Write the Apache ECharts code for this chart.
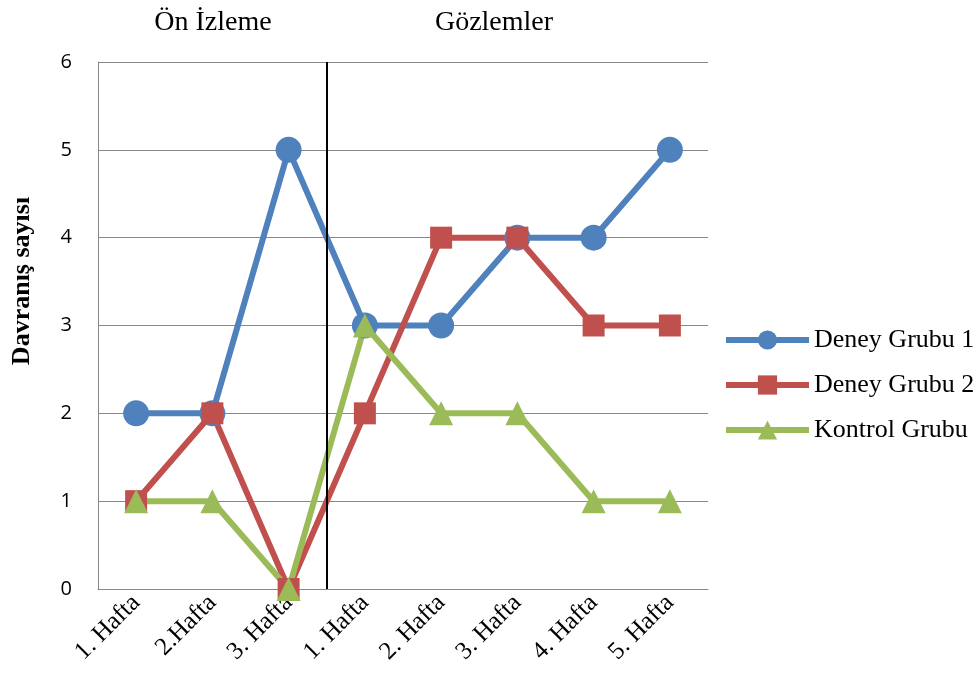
<!DOCTYPE html>
<html>
<head>
<meta charset="utf-8">
<script src="https://cdn.jsdelivr.net/npm/echarts@6/dist/echarts.min.js"></script>
<style>
  html, body { margin: 0; padding: 0; background: #fff; }
  #chart { width: 976px; height: 697px; }
</style>
</head>
<body>
<div id="chart"></div>
<script>
// Weekly behaviour counts: baseline weeks, then observation weeks
const categories = ['1. Hafta', '2.Hafta', '3. Hafta', '1. Hafta', '2. Hafta', '3. Hafta', '4. Hafta', '5. Hafta'];
const deneyGrubu1 = [2, 2, 5, 3, 3, 4, 4, 5];
const deneyGrubu2 = [1, 2, 0, 2, 4, 4, 3, 3];
const kontrolGrubu = [1, 1, 0, 3, 2, 2, 1, 1];
const phaseNames = ['Ön İzleme', 'Gözlemler'];
const yTitle = 'Davranış sayısı';
const phaseBoundary = 3; // after the third baseline week

const serif = '"Liberation Serif", "Times New Roman", serif';
const sans = '"Open Sans", "Noto Sans", sans-serif';

const chart = echarts.init(document.getElementById('chart'));

function lineSeries(name, data, color, symbol, size) {
  return {
    name: name,
    type: 'line',
    data: data,
    symbol: symbol,
    symbolSize: size,
    lineStyle: { width: 6, color: color },
    itemStyle: { color: color },
    z: 3
  };
}

chart.setOption({
  animation: false,
  grid: { left: 98, right: 268, top: 62, bottom: 108 },
  title: [
    { text: phaseNames[0], left: 208, top: 4, textAlign: 'center',
      textStyle: { fontFamily: serif, fontSize: 28, fontWeight: 'normal', color: '#000' } },
    { text: phaseNames[1], left: 489, top: 4, textAlign: 'center',
      textStyle: { fontFamily: serif, fontSize: 28, fontWeight: 'normal', color: '#000' } }
  ],
  graphic: [
    {
      type: 'text',
      x: 22,
      y: 281,
      rotation: Math.PI / 2,
      style: {
        text: yTitle,
        fontFamily: serif,
        fontSize: 26,
        fontWeight: 'bold',
        fill: '#000',
        align: 'center',
        verticalAlign: 'middle'
      }
    }
  ],
  legend: {
    orient: 'vertical',
    left: 718,
    top: 322,
    itemWidth: 83,
    itemHeight: 24,
    itemGap: 19,
    lineStyle: { width: 6 },
    textStyle: { fontFamily: serif, fontSize: 26, color: '#000' },
    data: ['Deney Grubu 1', 'Deney Grubu 2', 'Kontrol Grubu']
  },
  xAxis: [
    {
      type: 'category',
      data: categories,
      boundaryGap: true,
      axisLine: { lineStyle: { color: '#888', width: 1 } },
      axisTick: { show: false },
      axisLabel: {
        rotate: 45,
        interval: 0,
        margin: 10,
        fontFamily: serif,
        fontSize: 25,
        color: '#000'
      }
    },
    {
      // hidden continuous axis used to place the phase divider between weeks
      type: 'value',
      min: 0,
      max: categories.length,
      show: false
    }
  ],
  yAxis: {
    type: 'value',
    min: 0,
    max: 6,
    interval: 1,
    axisLine: { show: true, lineStyle: { color: '#888', width: 1 } },
    axisTick: { show: false },
    axisLabel: { fontFamily: sans, fontSize: 20, color: '#000', margin: 26 },
    splitLine: { lineStyle: { color: '#888', width: 1 } }
  },
  series: [
    lineSeries('Deney Grubu 1', deneyGrubu1, '#4F81BD', 'circle', 26),
    lineSeries('Deney Grubu 2', deneyGrubu2, '#C0504D', 'rect', 22),
    lineSeries('Kontrol Grubu', kontrolGrubu, '#9BBB59', 'triangle', 24),
    {
      type: 'line',
      xAxisIndex: 1,
      data: [],
      silent: true,
      markLine: {
        symbol: 'none',
        silent: true,
        label: { show: false },
        lineStyle: { color: '#000', width: 2, type: 'solid' },
        data: [[{ coord: [phaseBoundary, 6] }, { coord: [phaseBoundary, 0] }]]
      },
      z: 2
    }
  ]
});
</script>
</body>
</html>
